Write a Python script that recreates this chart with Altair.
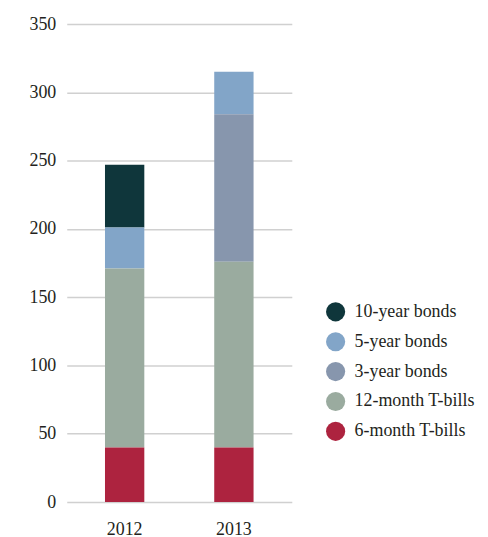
import altair as alt
import pandas as pd

years = ["2012", "2013"]
series = ["10-year bonds", "5-year bonds", "3-year bonds", "12-month T-bills", "6-month T-bills"]
colors = ["#0f363b", "#82a5c8", "#8796ad", "#9aab9f", "#ad233f"]
stack_rank = [4, 3, 2, 1, 0]
values_2012 = [46, 30, 0, 131, 40]
values_2013 = [0, 31, 108, 136, 40]

rows = []
for s, r, v12, v13 in zip(series, stack_rank, values_2012, values_2013):
    rows.append({"year": "2012", "series": s, "rank": r, "value": v12})
    rows.append({"year": "2013", "series": s, "rank": r, "value": v13})
df = pd.DataFrame(rows)

FONT = "Liberation Serif"

chart = alt.Chart(df).mark_bar().encode(
    x=alt.X("year:N", title=None, sort=years,
            scale=alt.Scale(paddingInner=0.64, paddingOuter=0.35),
            axis=alt.Axis(labelAngle=0, domain=False, ticks=False, labelPadding=19,
                          labelFontSize=18, labelFont=FONT, labelColor="#231f20")),
    y=alt.Y("value:Q", title=None, stack="zero",
            scale=alt.Scale(domain=[0, 350]),
            axis=alt.Axis(values=[0, 50, 100, 150, 200, 250, 300, 350], domain=False, ticks=False,
                          labelPadding=11, labelFontSize=18, labelFont=FONT, labelColor="#231f20",
                          gridColor="#d0d0d0", gridWidth=1.5)),
    color=alt.Color("series:N", title=None,
                    scale=alt.Scale(domain=series, range=colors),
                    legend=alt.Legend(orient="none", legendX=260, legendY=279,
                                      symbolType="circle", symbolSize=370, symbolStrokeWidth=0,
                                      labelFontSize=18, labelFont=FONT, labelColor="#231f20",
                                      rowPadding=10, labelOffset=9)),
    order=alt.Order("rank:Q", sort="ascending"),
).properties(
    width=226, height=480,
    padding={"left": 21, "top": 6, "right": 5, "bottom": 0},
).configure_view(stroke=None)

chart.save("out.html", embed_options={"renderer": "svg", "actions": False})
